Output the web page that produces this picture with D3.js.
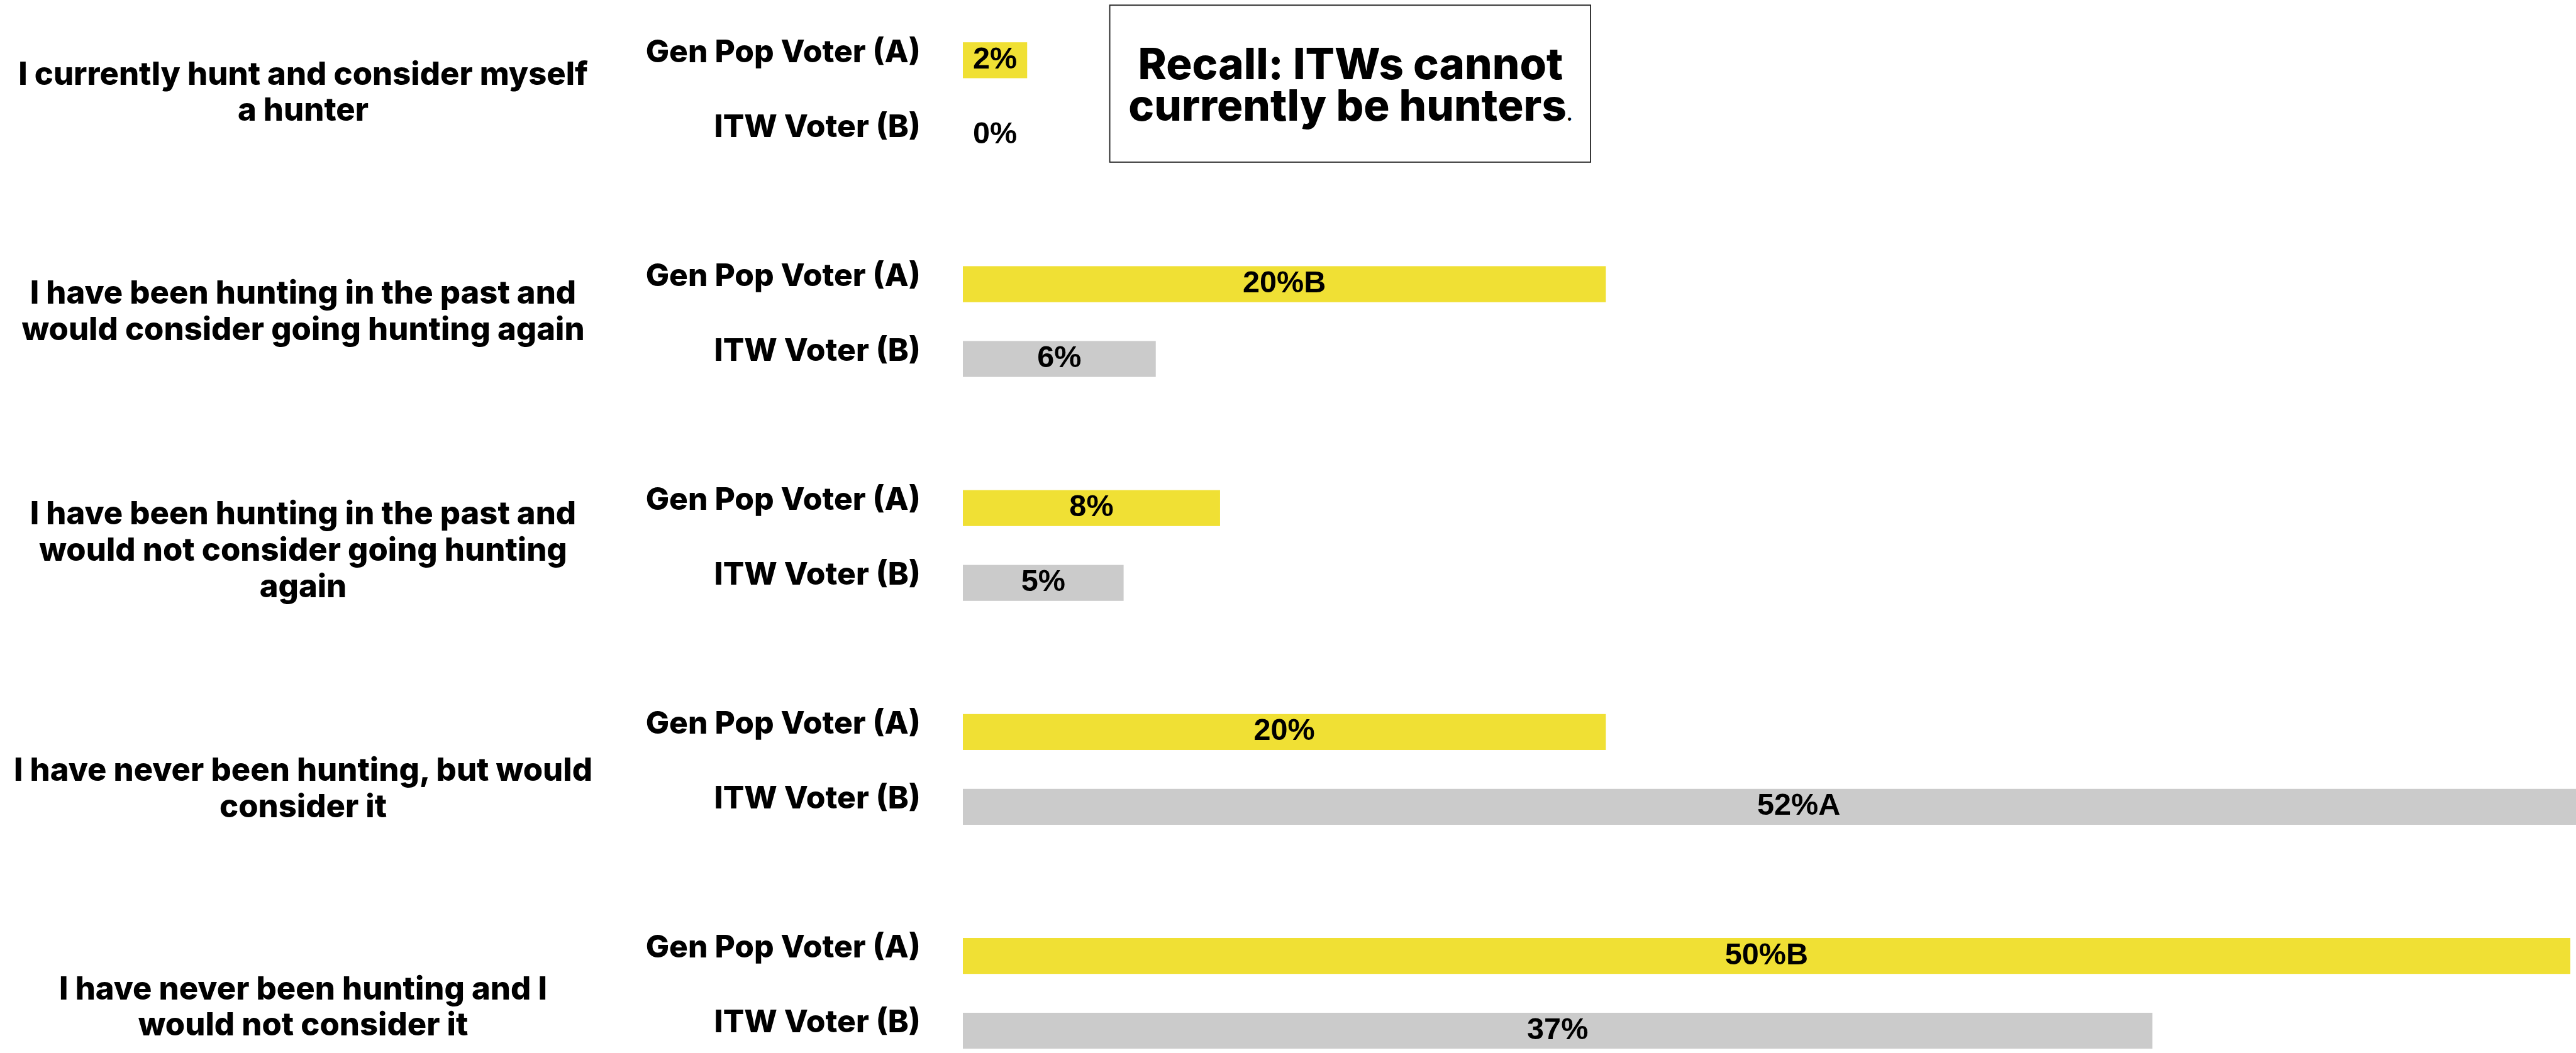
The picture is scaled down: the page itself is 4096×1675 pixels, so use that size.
<!DOCTYPE html>
<html>
<head>
<meta charset="utf-8">
<script src="https://cdn.jsdelivr.net/npm/d3@7"></script>
<style>
  html, body { margin: 0; padding: 0; background: #ffffff; }
  svg { display: block; }
</style>
</head>
<body>
<svg id="chart" width="4096" height="1675"></svg>
<script>
// ---- data ----
const categories = [
  ["I currently hunt and consider myself", "a hunter"],
  ["I have been hunting in the past and", "would consider going hunting again"],
  ["I have been hunting in the past and", "would not consider going hunting", "again"],
  ["I have never been hunting, but would", "consider it"],
  ["I have never been hunting and I", "would not consider it"]
];
const seriesNames = ["Gen Pop Voter (A)", "ITW Voter (B)"];
const genPopValues = [2, 20, 8, 20, 50];
const itwValues = [0, 6, 5, 52, 37];
// significance letters shown after the percentage
const genPopSig = ["", "B", "", "", "B"];
const itwSig = ["", "", "", "A", ""];
const noteLines = ["Recall: ITWs cannot", "currently be hunters"];

// ---- layout ----
const W = 4096, H = 1675;
const svg = d3.select("#chart");
const HEAD_FONT = "Inter, 'Open Sans', sans-serif";
const VALUE_FONT = "'Liberation Sans', Arial, sans-serif";
const HEAD_WEIGHT = 800;
const YELLOW = "#F0E034", GRAY = "#CBCBCB";

// font size that makes a sample string span a given width
function fitSize(sample, width, family, weight) {
  const t = svg.append("text").attr("font-family", family).attr("font-weight", weight)
    .attr("font-size", 100).text(sample);
  const len = t.node().getComputedTextLength();
  t.remove();
  return 100 * width / len;
}
const catSize = fitSize(categories[0][0], 906, HEAD_FONT, HEAD_WEIGHT);
const serSize = fitSize(seriesNames[0], 437, HEAD_FONT, HEAD_WEIGHT);
const noteSize = fitSize(noteLines[0], 676, HEAD_FONT, HEAD_WEIGHT);
const valSize = 48.6;

const x = d3.scaleLinear().domain([0, 50]).range([1531, 4087]);
const yGroup = d3.scaleBand().domain(d3.range(categories.length))
  .range([67.2, 67.2 + 356.2 * categories.length]).paddingInner(0).paddingOuter(0).align(0);
const barH = 57.2, rowStep = 119;
const ySeries = d3.scaleBand().domain(seriesNames)
  .range([0, rowStep + barH]).paddingInner(1 - barH / rowStep).paddingOuter(0).align(0);

const rows = [];
categories.forEach((c, i) => {
  rows.push({ g: i, s: seriesNames[0], v: genPopValues[i], sig: genPopSig[i], color: YELLOW });
  rows.push({ g: i, s: seriesNames[1], v: itwValues[i], sig: itwSig[i], color: GRAY });
});
const rowTop = d => yGroup(d.g) + ySeries(d.s);
const rowMid = d => rowTop(d) + ySeries.bandwidth() / 2;

// bars
svg.append("g").selectAll("rect").data(rows).join("rect")
  .attr("x", x(0))
  .attr("y", rowTop)
  .attr("width", d => x(d.v) - x(0))
  .attr("height", ySeries.bandwidth())
  .attr("fill", d => d.color);

// value labels, centred on the bar (a small minimum span keeps tiny values readable)
svg.append("g").selectAll("text").data(rows).join("text")
  .attr("x", d => (x(0) + x(Math.max(d.v, 2))) / 2)
  .attr("y", d => rowMid(d) + 13)
  .attr("text-anchor", "middle")
  .attr("font-family", VALUE_FONT).attr("font-weight", 700)
  .attr("font-size", valSize).attr("fill", "#000")
  .text(d => d.v + "%" + d.sig);

// series labels
svg.append("g").selectAll("text").data(rows).join("text")
  .attr("x", 1463.7)
  .attr("y", d => rowMid(d) + 2.7)
  .attr("text-anchor", "end")
  .attr("font-family", HEAD_FONT).attr("font-weight", HEAD_WEIGHT)
  .attr("font-size", serSize).attr("fill", "#000")
  .text(d => d.s);

// category labels, centred on their group
const catShift = [-10, -18, 6, 29, 20];
const lineGap = 57.7, capH = catSize * 0.72;
const catG = svg.append("g");
categories.forEach((lines, i) => {
  const mid = yGroup(i) + (rowStep + barH) / 2 + catShift[i];
  const first = mid - ((lines.length - 1) * lineGap - capH) / 2;
  const t = catG.append("text")
    .attr("text-anchor", "middle")
    .attr("font-family", HEAD_FONT).attr("font-weight", HEAD_WEIGHT)
    .attr("font-size", catSize).attr("fill", "#000");
  lines.forEach((ln, j) => {
    t.append("tspan").attr("x", 482).attr("y", first + j * lineGap).text(ln);
  });
});

// note box
const note = svg.append("g");
note.append("rect")
  .attr("x", 1764.6).attr("y", 8.2).attr("width", 764.5).attr("height", 249.7)
  .attr("fill", "#fff").attr("stroke", "#222").attr("stroke-width", 1.8);
const noteBase = [126, 191.6];
noteLines.forEach((ln, j) => {
  const t = note.append("text").attr("text-anchor", "middle")
    .attr("x", 2147.4).attr("y", noteBase[j])
    .attr("font-family", HEAD_FONT).attr("font-weight", HEAD_WEIGHT)
    .attr("font-size", noteSize).attr("fill", "#000")
    .text(ln);
  if (j === noteLines.length - 1) {
    t.append("tspan").attr("font-size", noteSize * 0.4).text(".");
  }
});
</script>
</body>
</html>
